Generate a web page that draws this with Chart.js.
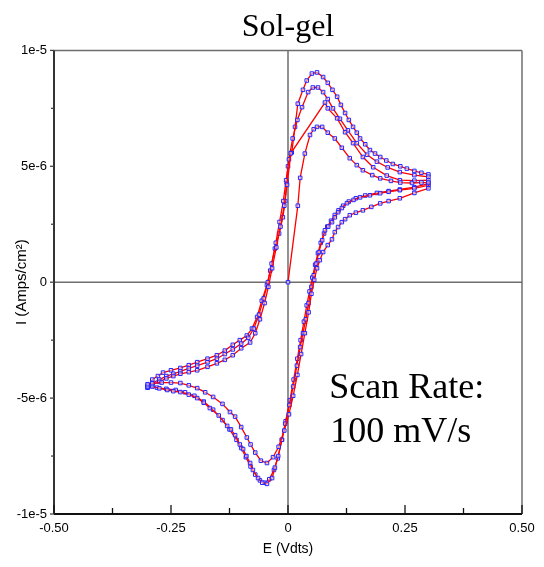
<!DOCTYPE html>
<html lang="en">
<head>
    <meta charset="UTF-8">
    <title>Sol-gel cyclic voltammogram</title>
    <style>
        body { margin: 0; padding: 0; background: #fff; }
        #cv { display: block; }
    </style>
</head>
<body>
    <canvas id="cv" width="544" height="567"></canvas>

    <script src="https://cdn.jsdelivr.net/npm/chart.js"></script>
    <script>
        // Axis ticks
        const xTickValues = [-0.5, -0.25, 0, 0.25, 0.5];
        const xTickLabels = ['-0.50', '-0.25', '0', '0.25', '0.50'];
        const xMinorValues = [-0.375, -0.125, 0.125, 0.375];
        const yTickValues = [-10, -5, 0, 5, 10];   // in 1e-6 A/cm2
        const yTickLabels = ['-1e-5', '-5e-6', '0', '5e-6', '1e-5'];
        const yMinorValues = [-7.5, -2.5, 2.5, 7.5];

        // Cycle 1: starts at 0 V, first anodic sweep, then cathodic sweep
        const cycle1E = [
            0.000, 0.021, 0.026, 0.036, 0.047, 0.055, 0.062, 0.073, 0.085, 0.100,
            0.115, 0.132, 0.147, 0.160, 0.180, 0.197, 0.220, 0.240, 0.265, 0.285,
            0.300, 0.300, 0.270, 0.239, 0.215, 0.197, 0.178, 0.160, 0.145, 0.132,
            0.122, 0.115, 0.107, 0.100, 0.094, 0.085, 0.075, 0.068, 0.062, 0.056,
            0.050, 0.044, 0.036, 0.028, 0.020, 0.011, 0.002, -0.008, -0.020, -0.032,
            -0.045, -0.058, -0.070, -0.080, -0.088, -0.100, -0.113, -0.124, -0.140, -0.160,
            -0.177, -0.194, -0.212, -0.230, -0.250, -0.270, -0.290, -0.300
        ];
        const cycle1I = [
            0.0, 3.3, 4.5, 5.55, 6.35, 6.6, 6.7, 6.7, 6.45, 6.2,
            5.8, 5.35, 5.05, 4.83, 4.62, 4.48, 4.37, 4.3, 4.28, 4.3,
            4.3, 4.05, 3.85, 3.62, 3.5, 3.4, 3.25, 3.1, 3.0, 2.89,
            2.72, 2.59, 2.38, 2.16, 1.85, 1.6, 1.3, 0.95, 0.6, 0.1,
            -0.5, -1.3, -2.2, -3.1, -4.0, -4.9, -5.7, -6.4, -7.1, -7.55,
            -7.8, -7.7, -7.35, -7.0, -6.7, -6.25, -5.8, -5.6, -5.25, -4.95,
            -4.75, -4.57, -4.45, -4.35, -4.33, -4.33, -4.36, -4.4
        ];

        // Cycle 2
        const cycle2E = [
            -0.300, -0.290, -0.275, -0.260, -0.245, -0.230, -0.212, -0.194, -0.172, -0.152,
            -0.135, -0.118, -0.100, -0.081, -0.070, -0.060, -0.050, -0.042, -0.034, -0.025,
            -0.016, -0.008, -0.002, 0.006, 0.079, 0.085, 0.105, 0.122, 0.139, 0.160,
            0.182, 0.211, 0.239, 0.270, 0.300, 0.300, 0.270, 0.239, 0.215, 0.197,
            0.175, 0.154, 0.140, 0.126, 0.115, 0.107, 0.100, 0.094, 0.086, 0.079,
            0.073, 0.066, 0.060, 0.055, 0.050, 0.044, 0.038, 0.032, 0.026, 0.019,
            0.011, 0.003, -0.006, -0.013, -0.021, -0.028, -0.034, -0.045, -0.055, -0.064,
            -0.075, -0.081, -0.089, -0.096, -0.103, -0.113, -0.122, -0.130, -0.148, -0.167,
            -0.180, -0.194, -0.212, -0.230, -0.245, -0.258, -0.275, -0.290, -0.300
        ];
        const cycle2I = [
            -4.45, -4.42, -4.3, -4.15, -4.05, -3.95, -3.88, -3.8, -3.65, -3.5,
            -3.35, -3.15, -2.85, -2.6, -2.2, -1.6, -0.9, -0.2, 0.6, 1.5,
            2.4, 3.3, 4.2, 5.56, 7.75, 7.5, 7.07, 6.47, 6.0, 5.4,
            4.96, 4.6, 4.4, 4.38, 4.4, 4.18, 4.05, 3.97, 3.9, 3.84,
            3.75, 3.66, 3.55, 3.41, 3.2, 3.02, 2.8, 2.59, 2.4, 2.24,
            1.81, 1.3, 0.8, 0.3, -0.2, -0.9, -1.6, -2.2, -2.8, -3.6,
            -4.5, -5.3, -6.1, -6.8, -7.5, -8.0, -8.45, -8.7, -8.65, -8.45,
            -8.1, -7.8, -7.5, -7.2, -7.0, -6.6, -6.35, -6.2, -5.75, -5.43,
            -5.2, -5.0, -4.85, -4.74, -4.7, -4.65, -4.58, -4.5, -4.5
        ];

        // Cycle 3
        const cycle3E = [
            -0.300, -0.290, -0.275, -0.260, -0.245, -0.230, -0.212, -0.194, -0.172, -0.152,
            -0.135, -0.118, -0.100, -0.085, -0.073, -0.062, -0.052, -0.043, -0.035, -0.026,
            -0.018, -0.010, -0.004, 0.002, 0.010, 0.020, 0.030, 0.043, 0.053, 0.064,
            0.075, 0.085, 0.096, 0.111, 0.128, 0.147, 0.169, 0.190, 0.213, 0.239,
            0.270, 0.300, 0.300, 0.270, 0.239, 0.215, 0.190, 0.165, 0.145, 0.130,
            0.118, 0.108, 0.100, 0.092, 0.084, 0.077, 0.070, 0.064, 0.058, 0.052,
            0.046, 0.040, 0.034, 0.027, 0.020, 0.012, 0.004, -0.005, -0.013, -0.022,
            -0.030, -0.040, -0.050, -0.060, -0.070, -0.080, -0.090, -0.100, -0.110, -0.125,
            -0.140, -0.160, -0.180, -0.200, -0.220, -0.240, -0.260, -0.280, -0.300
        ];
        const cycle3I = [
            -4.5, -4.35, -4.2, -4.05, -3.95, -3.85, -3.72, -3.6, -3.45, -3.3,
            -3.1, -2.9, -2.65, -2.4, -2.0, -1.4, -0.7, 0.0, 0.8, 1.7,
            2.6, 3.5, 4.4, 5.3, 6.2, 7.0, 7.55, 8.2, 8.4, 8.4,
            8.2, 7.9, 7.5, 7.05, 6.55, 6.0, 5.5, 5.2, 4.95, 4.75,
            4.62, 4.55, 4.25, 4.1, 4.0, 3.93, 3.85, 3.74, 3.62, 3.48,
            3.3, 3.1, 2.9, 2.65, 2.4, 2.1, 1.7, 1.25, 0.75, 0.2,
            -0.4, -1.0, -1.7, -2.5, -3.3, -4.2, -5.1, -6.0, -6.8, -7.6,
            -8.1, -8.5, -8.65, -8.55, -8.3, -7.95, -7.55, -7.15, -6.8, -6.35,
            -5.95, -5.5, -5.15, -4.9, -4.75, -4.65, -4.6, -4.55, -4.55
        ];

        // Cycle 4: last anodic sweep
        const cycle4E = [
            -0.300, -0.290, -0.278, -0.267, -0.250, -0.230, -0.212, -0.194, -0.172, -0.152,
            -0.135, -0.118, -0.103, -0.088, -0.077, -0.066, -0.056, -0.045, -0.038, -0.028,
            -0.019, -0.011, -0.006, -0.003, 0.000, 0.008, 0.015, 0.021, 0.032, 0.040,
            0.051, 0.062, 0.075, 0.085, 0.095, 0.105, 0.113, 0.122, 0.130, 0.139,
            0.147, 0.154, 0.165, 0.175, 0.186, 0.197, 0.210, 0.224, 0.240, 0.254,
            0.270, 0.285, 0.300
        ];
        const cycle4I = [
            -4.55, -4.2, -4.05, -3.9, -3.8, -3.7, -3.58, -3.45, -3.3, -3.15,
            -2.95, -2.7, -2.5, -2.3, -2.0, -1.5, -0.8, -0.13, 0.5, 1.45,
            2.1, 2.8, 3.5, 4.3, 5.0, 5.6, 6.7, 7.7, 8.3, 8.7,
            9.0, 9.05, 8.85, 8.6, 8.3, 8.0, 7.65, 7.3, 7.0, 6.7,
            6.45, 6.2, 5.95, 5.7, 5.55, 5.4, 5.25, 5.1, 5.0, 4.9,
            4.8, 4.72, 4.65
        ];

        const cycles = [
            [cycle1E, cycle1I],
            [cycle2E, cycle2I],
            [cycle3E, cycle3I],
            [cycle4E, cycle4I]
        ];

        function line(ctx, x1, y1, x2, y2) {
            ctx.beginPath();
            ctx.moveTo(x1, y1);
            ctx.lineTo(x2, y2);
            ctx.stroke();
        }

        // frame, zero axes, tick marks and the scan rate note
        const framePlugin = {
            id: 'frame',
            beforeDatasetsDraw(chart) {
                const { ctx, chartArea: a, scales: { x, y } } = chart;
                const x0 = x.getPixelForValue(0);
                const y0 = y.getPixelForValue(0);
                ctx.save();
                ctx.strokeStyle = '#6e6e6e';
                ctx.lineWidth = 1.5;
                line(ctx, a.left, a.top, a.right, a.top);
                line(ctx, a.right, a.top, a.right, a.bottom);
                line(ctx, x0, a.top, x0, a.bottom);
                line(ctx, a.left, y0, a.right, y0);

                ctx.strokeStyle = '#111';
                ctx.lineWidth = 2;
                line(ctx, a.left, a.bottom, a.right, a.bottom);
                ctx.strokeStyle = '#333';
                line(ctx, a.left, a.top, a.left, a.bottom);

                ctx.lineWidth = 1.3;
                ctx.strokeStyle = '#111';
                xTickValues.forEach(v => {
                    const px = x.getPixelForValue(v);
                    line(ctx, px, a.bottom, px, a.bottom - 9);
                });
                xMinorValues.forEach(v => {
                    const px = x.getPixelForValue(v);
                    line(ctx, px, a.bottom, px, a.bottom - 6);
                });
                ctx.strokeStyle = '#444';
                yTickValues.forEach(v => {
                    const py = y.getPixelForValue(v);
                    line(ctx, a.left - 4, py, a.left, py);
                });
                yMinorValues.forEach(v => {
                    const py = y.getPixelForValue(v);
                    line(ctx, a.left - 3, py, a.left, py);
                });
                ctx.restore();
            },
            afterDatasetsDraw(chart) {
                const { ctx, scales: { x, y } } = chart;
                const tx = x.getPixelForValue(0.088);
                const ty = y.getPixelForValue(-5.0);
                ctx.save();
                ctx.fillStyle = '#000';
                ctx.font = '36px "Liberation Serif", "Times New Roman", serif';
                ctx.textAlign = 'left';
                ctx.textBaseline = 'alphabetic';
                ctx.fillText('Scan Rate:', tx, ty);
                ctx.fillText('100 mV/s', tx + 1, ty + 44);
                ctx.restore();
            }
        };

        const tickFont = { family: '"Liberation Sans", Arial, sans-serif', size: 13 };
        const labelFont = { family: '"Liberation Sans", Arial, sans-serif', size: 14 };

        new Chart(document.getElementById('cv'), {
            type: 'scatter',
            data: {
                datasets: cycles.map(([es, is], k) => ({
                    label: 'Cycle ' + (k + 1),
                    data: es.map((e, i) => ({ x: e, y: is[i] })),
                    showLine: true,
                    borderColor: '#ff0000',
                    borderWidth: 1.3,
                    tension: 0,
                    pointStyle: 'rect',
                    pointRadius: 2.5,
                    pointBorderWidth: 1,
                    pointBorderColor: '#2424ff',
                    pointBackgroundColor: 'rgba(255,255,255,0.5)'
                }))
            },
            options: {
                responsive: false,
                animation: false,
                devicePixelRatio: 1,
                layout: { padding: { left: 0, right: 22, top: 0, bottom: 0 } },
                plugins: {
                    legend: { display: false },
                    tooltip: { enabled: false },
                    title: {
                        display: true,
                        text: 'Sol-gel',
                        fullSize: false,
                        color: '#000',
                        font: { family: '"Liberation Serif", "Times New Roman", serif', size: 32, weight: 'normal' },
                        padding: { top: 8, bottom: 4 }
                    }
                },
                scales: {
                    x: {
                        type: 'linear',
                        min: -0.5,
                        max: 0.5,
                        afterBuildTicks: s => { s.ticks = xTickValues.map(v => ({ value: v })); },
                        afterFit: s => { s.height = 53; },
                        grid: { display: false, drawTicks: false },
                        border: { display: false },
                        ticks: {
                            color: '#000',
                            font: tickFont,
                            padding: 7,
                            maxRotation: 0,
                            callback: v => xTickLabels[xTickValues.indexOf(v)]
                        },
                        title: {
                            display: true,
                            text: 'E (Vdts)',
                            color: '#000',
                            font: labelFont,
                            padding: { top: 0, bottom: 9 }
                        }
                    },
                    y: {
                        type: 'linear',
                        min: -10,
                        max: 10,
                        afterBuildTicks: s => { s.ticks = yTickValues.map(v => ({ value: v })); },
                        afterFit: s => { s.width = 54; },
                        grid: { display: false, drawTicks: false },
                        border: { display: false },
                        ticks: {
                            color: '#000',
                            font: tickFont,
                            padding: 7,
                            callback: v => yTickLabels[yTickValues.indexOf(v)]
                        },
                        title: {
                            display: true,
                            text: 'I (Amps/cm²)',
                            color: '#000',
                            font: { family: '"Liberation Sans", Arial, sans-serif', size: 15 },
                            padding: { top: 13, bottom: 0 }
                        }
                    }
                }
            },
            plugins: [framePlugin]
        });
    </script>
</body>
</html>
